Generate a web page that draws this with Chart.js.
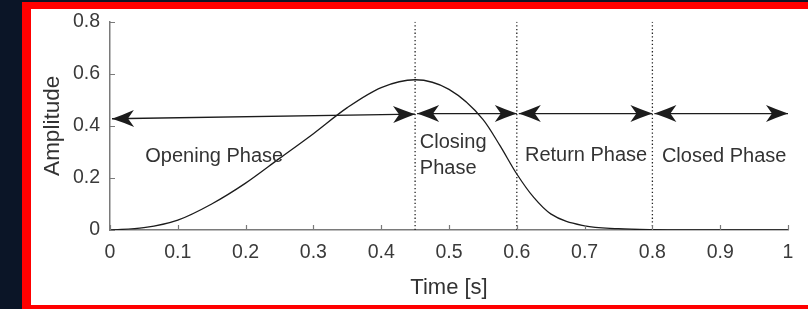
<!DOCTYPE html>
<html>
<head>
<meta charset="utf-8">
<script src="https://cdn.jsdelivr.net/npm/chart.js@4.4.0/dist/chart.umd.min.js"></script>
<style>
  html, body { margin: 0; padding: 0; background: #0b1527; }
  canvas { display: block; }
</style>
</head>
<body>
<canvas id="myChart" width="808" height="309"></canvas>
<script>
// values
var times = [0, 0.05, 0.1, 0.15, 0.2, 0.25, 0.3, 0.35, 0.4, 0.45, 0.5, 0.55, 0.575, 0.6, 0.625, 0.65, 0.7, 0.75, 0.8, 0.85, 0.9, 0.95, 1];
var amplitude = [0, 0.009, 0.038, 0.1, 0.18, 0.275, 0.37, 0.47, 0.547, 0.577, 0.54, 0.425, 0.325, 0.215, 0.125, 0.062, 0.016, 0.005, 0.001, 0, 0, 0, 0];

var xTicks = [0, 0.1, 0.2, 0.3, 0.4, 0.5, 0.6, 0.7, 0.8, 0.9, 1];
var yTicks = [0, 0.2, 0.4, 0.6, 0.8];

// phase boundaries (dotted lines) and the arrows between them
var phaseBounds = [0.45, 0.6, 0.8];
var arrowFrom = [0, 0.45, 0.6, 0.8];
var arrowTo = [0.45, 0.6, 0.8, 1];
var arrowFromY = [0.427, 0.447, 0.447, 0.447];
var arrowToY = [0.445, 0.447, 0.447, 0.447];
var phaseNames = [['Opening Phase'], ['Closing', 'Phase'], ['Return Phase'], ['Closed Phase']];

// where the phase names sit (data coords, left edge / middle of first line)
var labelAt = [
  { x: 0.052, y: 0.283 },
  { x: 0.457, y: 0.336 },
  { x: 0.612, y: 0.287 },
  { x: 0.814, y: 0.283 }
];

Chart.defaults.font.family = '"Liberation Sans", Arial, sans-serif';

var curve = [];
for (var i = 0; i < times.length; i++) {
  curve.push({ x: times[i], y: amplitude[i] });
}

var datasets = [{
  data: curve,
  borderColor: '#1c1c1c',
  borderWidth: 1.3,
  pointRadius: 0,
  fill: false,
  cubicInterpolationMode: 'monotone'
}];

for (var j = 0; j < phaseBounds.length; j++) {
  datasets.push({
    data: [{ x: phaseBounds[j], y: 0 }, { x: phaseBounds[j], y: 0.8 }],
    borderColor: '#222',
    borderWidth: 1.3,
    borderDash: [1.3, 2.4],
    pointRadius: 0,
    fill: false
  });
}

function arrowHead(ctx, tx, ty, ang) {
  var L = 22, W = 8.5, N = 16;
  ctx.save();
  ctx.translate(tx, ty);
  ctx.rotate(ang);
  ctx.beginPath();
  ctx.moveTo(0, 0);
  ctx.quadraticCurveTo(-L * 0.5, -W * 0.45, -L, -W);
  ctx.lineTo(-N, 0);
  ctx.lineTo(-L, W);
  ctx.quadraticCurveTo(-L * 0.5, W * 0.45, 0, 0);
  ctx.closePath();
  ctx.fill();
  ctx.restore();
}

var frame = {
  id: 'frame',
  beforeDraw: function (chart) {
    var ctx = chart.ctx;
    ctx.save();
    ctx.fillStyle = '#0b1527';
    ctx.fillRect(0, 0, 808, 309);
    ctx.fillStyle = '#ff0000';
    ctx.fillRect(22, 2, 786, 307);
    ctx.fillStyle = '#ffffff';
    ctx.fillRect(31, 9, 777, 296);
    ctx.restore();
  }
};

var extras = {
  id: 'extras',
  afterDraw: function (chart) {
    var ctx = chart.ctx;
    var xs = chart.scales.x, ys = chart.scales.y;
    var area = chart.chartArea;
    ctx.save();

    // inward tick marks
    ctx.strokeStyle = '#7a7a7a';
    ctx.lineWidth = 1.2;
    ctx.beginPath();
    xTicks.forEach(function (v) {
      var px = Math.round(xs.getPixelForValue(v)) + 0.5;
      ctx.moveTo(px, area.bottom);
      ctx.lineTo(px, area.bottom - 5);
    });
    yTicks.forEach(function (v) {
      var py = Math.round(ys.getPixelForValue(v)) + 0.5;
      ctx.moveTo(area.left, py);
      ctx.lineTo(area.left + 5, py);
    });
    ctx.stroke();

    // double arrows
    ctx.strokeStyle = '#1c1c1c';
    ctx.fillStyle = '#1c1c1c';
    ctx.lineWidth = 1.4;
    for (var k = 0; k < arrowFrom.length; k++) {
      var x1 = xs.getPixelForValue(arrowFrom[k]) + 2, y1 = ys.getPixelForValue(arrowFromY[k]);
      var x2 = xs.getPixelForValue(arrowTo[k]), y2 = ys.getPixelForValue(arrowToY[k]);
      var ang = Math.atan2(y2 - y1, x2 - x1);
      ctx.beginPath();
      ctx.moveTo(x1, y1);
      ctx.lineTo(x2, y2);
      ctx.stroke();
      arrowHead(ctx, x2, y2, ang);
      arrowHead(ctx, x1, y1, ang + Math.PI);
    }

    // phase names
    ctx.fillStyle = '#333';
    ctx.font = '20px "Liberation Sans", Arial, sans-serif';
    ctx.textAlign = 'left';
    ctx.textBaseline = 'middle';
    for (var m = 0; m < phaseNames.length; m++) {
      var lx = xs.getPixelForValue(labelAt[m].x);
      var ly = ys.getPixelForValue(labelAt[m].y);
      for (var n = 0; n < phaseNames[m].length; n++) {
        ctx.fillText(phaseNames[m][n], lx, ly + n * 26);
      }
    }
    ctx.restore();
  }
};

var ctx = document.getElementById('myChart').getContext('2d');
var myChart = new Chart(ctx, {
  type: 'line',
  data: { datasets: datasets },
  plugins: [frame, extras],
  options: {
    responsive: false,
    animation: false,
    devicePixelRatio: 1,
    layout: { padding: { left: 31, top: 18, right: 20, bottom: 4 } },
    plugins: { legend: { display: false }, tooltip: { enabled: false } },
    scales: {
      x: {
        type: 'linear',
        min: 0,
        max: 1,
        afterBuildTicks: function (s) { s.ticks = xTicks.map(function (v) { return { value: v }; }); },
        afterFit: function (s) { s.height = 75; },
        ticks: {
          padding: 11,
          color: '#3a3a3a',
          font: { size: 19.5 },
          maxRotation: 0,
          callback: function (v) { return String(v); }
        },
        grid: { display: false, drawTicks: false },
        border: { display: true, color: '#7a7a7a', width: 1.5 },
        title: {
          display: true,
          text: 'Time [s]',
          color: '#333',
          font: { size: 22 },
          padding: { top: 0, bottom: 4 }
        }
      },
      y: {
        min: 0,
        max: 0.8,
        afterBuildTicks: function (s) { s.ticks = yTicks.map(function (v) { return { value: v }; }); },
        afterFit: function (s) { s.width = 79; },
        ticks: {
          padding: 10,
          color: '#3a3a3a',
          font: { size: 19.5 },
          callback: function (v) { return String(v); }
        },
        grid: { display: false, drawTicks: false },
        border: { display: true, color: '#7a7a7a', width: 1.5 },
        title: {
          display: true,
          text: 'Amplitude',
          color: '#333',
          font: { size: 22.5 },
          padding: { top: 8, bottom: 0 }
        }
      }
    }
  }
});
</script>
</body>
</html>
